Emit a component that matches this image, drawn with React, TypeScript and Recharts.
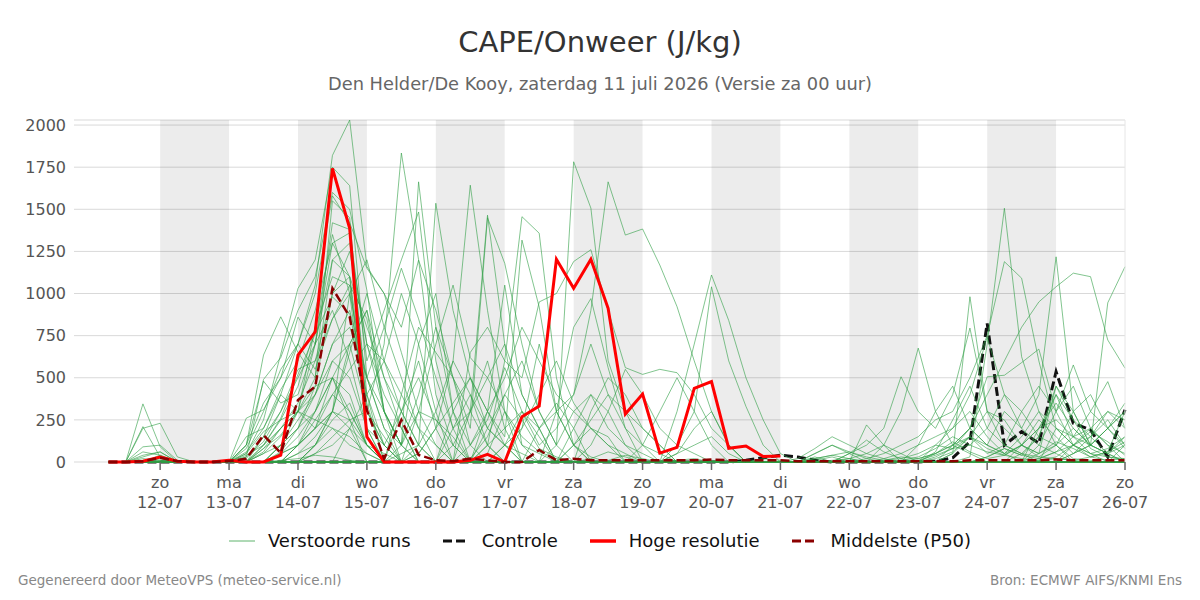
import React from "react"
import { LineChart, Line, XAxis, YAxis, CartesianGrid, ReferenceArea } from "recharts"

// forecast hours since 11-07 00 UTC
const uren = [
  6, 12, 18, 24, 30, 36, 42, 48, 54, 60,
  66, 72, 78, 84, 90, 96, 102, 108, 114, 120,
  126, 132, 138, 144, 150, 156, 162, 168, 174, 180,
  186, 192, 198, 204, 210, 216, 222, 228, 234, 240,
  246, 252, 258, 264, 270, 276, 282, 288, 294, 300,
  306, 312, 318, 324, 330, 336, 342, 348, 354, 360,
]

const dagTicks = [24, 48, 72, 96, 120, 144, 168, 192, 216, 240, 264, 288, 312, 336, 360]
const dagNamen = ["zo", "ma", "di", "wo", "do", "vr", "za", "zo", "ma", "di", "wo", "do", "vr", "za", "zo"]
const datums = ["12-07", "13-07", "14-07", "15-07", "16-07", "17-07", "18-07", "19-07", "20-07", "21-07", "22-07", "23-07", "24-07", "25-07", "26-07"]

// shaded days (every other day)
const grijzeDagen = [[24, 48], [72, 96], [120, 144], [168, 192], [216, 240], [264, 288], [312, 336]]

const yTicks = [0, 250, 500, 750, 1000, 1250, 1500, 1750, 2000]

// perturbed members, CAPE in J/kg
const m01 = [0, 0, 345, 90, 0, 0, 0, 0, 0, 150, 400, 700, 1050, 1820, 2030, 1160, 1000, 650, 300, 100, 0, 20, 150, 400, 250, 80, 30, 0, 0, 10, 40, 20, 0, 0, 0, 10, 0, 0, 0, 0, 0, 0, 10, 20, 0, 10, 30, 20, 50, 120, 60, 20, 40, 100, 30, 20, 10, 30, 60, 120]
const m02 = [0, 0, 210, 30, 0, 0, 0, 0, 50, 250, 640, 1030, 1200, 1750, 1640, 500, 200, 0, 50, 200, 600, 1643, 900, 300, 100, 50, 0, 0, 20, 60, 30, 0, 0, 0, 0, 0, 0, 0, 0, 0, 0, 0, 0, 0, 0, 0, 0, 10, 40, 80, 200, 506, 515, 590, 670, 300, 100, 30, 10, 20]
const m03 = [0, 0, 200, 230, 30, 0, 0, 0, 100, 635, 862, 650, 500, 1550, 1450, 300, 700, 1834, 1200, 400, 100, 0, 50, 300, 150, 60, 20, 0, 0, 0, 0, 0, 0, 0, 0, 0, 0, 0, 0, 0, 0, 0, 0, 0, 0, 0, 0, 0, 20, 60, 150, 80, 40, 20, 10, 30, 100, 180, 120, 40]
const m04 = [0, 0, 90, 100, 10, 0, 0, 0, 30, 490, 620, 900, 1100, 1600, 1500, 1020, 300, 100, 1663, 800, 300, 0, 100, 600, 1456, 1358, 500, 100, 30, 0, 0, 0, 0, 10, 20, 0, 0, 0, 0, 0, 0, 0, 0, 0, 0, 0, 0, 0, 0, 0, 30, 700, 1506, 625, 300, 100, 20, 10, 0, 0]
const m05 = [0, 0, 30, 60, 0, 0, 0, 0, 260, 310, 500, 860, 700, 1420, 1380, 600, 900, 1200, 1484, 600, 200, 300, 1465, 700, 100, 0, 0, 0, 0, 0, 0, 0, 0, 0, 0, 0, 0, 0, 0, 0, 0, 0, 0, 0, 0, 0, 0, 0, 0, 0, 0, 0, 0, 0, 20, 60, 150, 300, 200, 80]
const m06 = [0, 0, 0, 20, 0, 0, 0, 0, 150, 200, 430, 600, 900, 1300, 1360, 400, 0, 50, 100, 1536, 900, 500, 300, 150, 1317, 920, 300, 100, 0, 0, 0, 0, 0, 0, 0, 0, 0, 0, 0, 0, 0, 0, 0, 0, 0, 0, 0, 0, 0, 0, 0, 30, 80, 40, 150, 450, 250, 80, 30, 10]
const m07 = [0, 0, 60, 40, 0, 0, 0, 0, 100, 480, 350, 400, 700, 1200, 1300, 700, 300, 100, 400, 800, 500, 200, 1450, 1179, 700, 300, 100, 1782, 1507, 600, 300, 100, 50, 0, 0, 0, 0, 0, 0, 0, 0, 0, 0, 0, 0, 0, 0, 0, 0, 0, 0, 0, 0, 0, 0, 0, 0, 0, 0, 0]
const m08 = [0, 0, 0, 10, 0, 0, 0, 0, 40, 100, 250, 450, 800, 1100, 1050, 300, 100, 0, 0, 0, 100, 300, 500, 700, 400, 200, 300, 400, 900, 1663, 1347, 1383, 1169, 922, 600, 300, 100, 0, 0, 0, 0, 0, 0, 0, 0, 0, 0, 0, 0, 0, 0, 0, 0, 0, 0, 0, 0, 0, 0, 0]
const m09 = [0, 0, 0, 0, 0, 0, 0, 0, 80, 300, 550, 700, 1000, 1580, 1420, 1150, 1000, 800, 1198, 900, 500, 100, 300, 1050, 400, 200, 0, 100, 200, 150, 0, 0, 0, 0, 0, 0, 0, 0, 0, 0, 0, 0, 0, 0, 0, 0, 0, 0, 0, 50, 981, 300, 100, 50, 30, 100, 300, 400, 200, 100]
const m10 = [0, 0, 0, 0, 0, 0, 0, 0, 20, 150, 300, 550, 600, 1000, 1250, 700, 600, 1000, 700, 300, 0, 650, 800, 600, 500, 950, 1000, 1190, 1260, 900, 560, 520, 550, 530, 400, 200, 100, 0, 0, 0, 0, 0, 0, 0, 0, 0, 0, 0, 0, 0, 0, 0, 0, 0, 0, 0, 0, 0, 0, 0]
const m11 = [0, 0, 0, 0, 0, 0, 0, 0, 0, 60, 200, 350, 600, 850, 1000, 200, 0, 0, 100, 300, 600, 400, 200, 100, 50, 0, 0, 200, 400, 300, 100, 0, 0, 300, 700, 1110, 840, 500, 250, 50, 0, 0, 0, 0, 0, 0, 0, 0, 0, 0, 0, 0, 0, 0, 0, 0, 0, 0, 0, 0]
const m12 = [0, 0, 0, 0, 0, 0, 0, 0, 0, 0, 100, 300, 500, 1200, 1100, 150, 0, 0, 300, 700, 1050, 620, 500, 300, 0, 0, 300, 800, 970, 560, 200, 0, 0, 100, 300, 1040, 600, 330, 100, 0, 0, 0, 0, 0, 0, 0, 0, 0, 0, 0, 0, 0, 0, 0, 0, 0, 0, 0, 0, 0]
const m13 = [0, 0, 0, 0, 0, 0, 0, 0, 0, 100, 200, 300, 400, 600, 700, 300, 100, 0, 0, 0, 0, 0, 0, 100, 300, 200, 0, 0, 0, 0, 0, 0, 0, 0, 0, 0, 0, 0, 0, 0, 0, 50, 100, 50, 0, 100, 300, 676, 300, 100, 50, 0, 0, 0, 0, 0, 0, 0, 0, 0]
const m14 = [0, 0, 0, 0, 0, 0, 0, 0, 0, 0, 50, 100, 300, 600, 500, 200, 0, 0, 0, 0, 0, 0, 0, 0, 0, 0, 0, 0, 0, 0, 0, 0, 0, 0, 0, 0, 0, 0, 0, 0, 0, 0, 0, 50, 100, 200, 506, 300, 200, 400, 795, 300, 200, 100, 50, 450, 300, 100, 50, 0]
const m15 = [0, 0, 0, 0, 0, 0, 0, 0, 0, 0, 0, 100, 200, 400, 300, 100, 50, 0, 0, 0, 0, 0, 0, 0, 0, 0, 0, 0, 0, 0, 0, 0, 0, 0, 0, 0, 0, 0, 0, 0, 0, 0, 0, 0, 20, 50, 100, 150, 250, 300, 500, 750, 1189, 1091, 600, 200, 100, 50, 30, 20]
const m16 = [0, 0, 0, 0, 0, 0, 0, 0, 0, 0, 0, 50, 150, 300, 250, 0, 0, 0, 0, 0, 0, 0, 0, 0, 0, 0, 0, 0, 0, 0, 0, 0, 0, 0, 0, 0, 0, 0, 0, 0, 0, 0, 0, 0, 0, 0, 0, 20, 50, 100, 200, 400, 600, 800, 950, 1040, 1121, 1100, 724, 557]
const m17 = [0, 0, 0, 0, 0, 0, 0, 0, 0, 0, 0, 0, 100, 250, 350, 100, 0, 0, 0, 0, 0, 0, 0, 0, 0, 0, 0, 0, 0, 0, 0, 0, 0, 0, 0, 0, 0, 0, 0, 0, 0, 0, 0, 0, 0, 0, 0, 0, 0, 50, 150, 100, 300, 200, 400, 1218, 300, 100, 945, 1159]
const m18 = [0, 0, 0, 0, 0, 0, 0, 0, 0, 0, 0, 100, 200, 300, 200, 0, 0, 0, 0, 0, 0, 0, 0, 0, 0, 0, 0, 0, 0, 0, 0, 0, 0, 0, 0, 0, 0, 0, 0, 0, 0, 0, 0, 0, 0, 0, 0, 0, 30, 80, 150, 50, 100, 300, 450, 300, 576, 300, 477, 200]
const m19 = [0, 0, 0, 0, 0, 0, 0, 0, 0, 0, 0, 0, 50, 150, 250, 300, 150, 0, 0, 0, 0, 0, 0, 0, 0, 0, 0, 0, 0, 0, 0, 0, 0, 0, 0, 0, 0, 0, 0, 0, 0, 0, 0, 0, 0, 0, 0, 0, 100, 200, 400, 740, 400, 200, 100, 50, 0, 0, 0, 0]
const m20 = [0, 0, 20, 10, 0, 0, 0, 0, 0, 100, 260, 520, 760, 980, 880, 400, 100, 0, 50, 200, 350, 500, 200, 100, 0, 0, 100, 300, 400, 200, 100, 50, 0, 0, 0, 0, 0, 0, 20, 10, 0, 20, 40, 20, 0, 0, 10, 30, 80, 150, 100, 60, 40, 100, 200, 250, 150, 100, 200, 300]
const m21 = [0, 0, 0, 40, 0, 0, 0, 0, 0, 0, 100, 200, 400, 700, 900, 500, 200, 100, 700, 1000, 300, 100, 0, 0, 200, 700, 300, 100, 0, 0, 0, 0, 0, 0, 0, 0, 0, 0, 0, 0, 0, 0, 0, 0, 0, 0, 0, 0, 0, 0, 0, 0, 0, 0, 100, 300, 450, 200, 100, 50]
const m22 = [0, 0, 0, 0, 0, 0, 0, 0, 60, 200, 400, 300, 200, 500, 700, 900, 300, 0, 0, 0, 0, 300, 600, 200, 0, 0, 0, 0, 0, 0, 0, 0, 0, 0, 0, 0, 0, 0, 0, 0, 0, 10, 30, 0, 0, 0, 0, 0, 0, 0, 0, 0, 0, 0, 0, 0, 0, 0, 0, 0]
const m23 = [0, 0, 0, 0, 0, 0, 0, 0, 0, 0, 0, 0, 100, 300, 650, 1000, 600, 400, 200, 0, 0, 100, 250, 560, 300, 100, 200, 400, 700, 400, 200, 100, 0, 0, 0, 0, 0, 0, 0, 0, 0, 0, 0, 0, 0, 0, 0, 0, 0, 0, 0, 0, 0, 0, 0, 0, 50, 100, 200, 350]
const m24 = [0, 0, 0, 0, 0, 0, 0, 0, 100, 350, 500, 700, 550, 850, 1050, 850, 300, 100, 0, 0, 200, 400, 100, 0, 0, 0, 0, 0, 0, 0, 0, 0, 0, 0, 0, 0, 0, 0, 0, 0, 0, 0, 0, 0, 0, 0, 0, 0, 0, 0, 0, 0, 0, 0, 0, 0, 0, 0, 0, 0]
const m25 = [0, 0, 0, 0, 0, 0, 0, 0, 0, 50, 150, 300, 450, 500, 250, 100, 0, 400, 800, 650, 500, 300, 100, 0, 0, 0, 0, 0, 0, 0, 0, 0, 0, 0, 0, 0, 0, 0, 0, 0, 0, 0, 0, 0, 0, 0, 0, 0, 0, 0, 0, 0, 0, 0, 0, 0, 0, 0, 0, 0]
const m26 = [0, 0, 0, 0, 0, 0, 0, 0, 0, 0, 0, 0, 0, 0, 0, 0, 0, 300, 600, 200, 0, 0, 300, 500, 800, 600, 400, 300, 200, 100, 50, 0, 0, 0, 0, 0, 0, 0, 0, 0, 0, 0, 0, 0, 0, 0, 0, 0, 0, 0, 0, 0, 0, 0, 0, 0, 0, 0, 0, 0]
const m27 = [0, 0, 0, 0, 0, 0, 0, 0, 0, 0, 0, 0, 0, 0, 0, 0, 0, 0, 0, 0, 0, 0, 0, 100, 200, 400, 600, 350, 200, 100, 0, 0, 0, 50, 200, 300, 100, 0, 0, 0, 0, 0, 0, 0, 0, 0, 0, 0, 0, 0, 0, 0, 0, 100, 250, 150, 50, 100, 200, 300]
const m28 = [0, 0, 0, 0, 0, 0, 0, 0, 0, 0, 60, 200, 450, 1000, 1100, 350, 0, 0, 0, 0, 0, 0, 0, 0, 0, 0, 0, 0, 0, 0, 0, 0, 0, 0, 0, 0, 0, 0, 0, 0, 0, 0, 0, 0, 0, 0, 0, 0, 0, 0, 0, 0, 0, 0, 0, 0, 0, 0, 0, 0]
const m29 = [0, 0, 0, 0, 0, 0, 0, 0, 0, 0, 0, 0, 50, 100, 200, 100, 0, 0, 0, 0, 0, 0, 0, 0, 0, 0, 0, 0, 0, 0, 0, 0, 0, 0, 0, 0, 0, 0, 0, 0, 0, 0, 0, 0, 0, 0, 0, 0, 0, 0, 0, 0, 0, 0, 0, 0, 0, 0, 0, 0]
const m30 = [0, 0, 0, 0, 0, 0, 0, 0, 0, 0, 0, 0, 0, 0, 0, 0, 0, 100, 300, 250, 150, 0, 0, 0, 0, 0, 0, 0, 300, 500, 400, 200, 100, 0, 0, 0, 0, 0, 0, 0, 0, 0, 0, 0, 0, 0, 0, 0, 0, 0, 0, 0, 0, 0, 200, 400, 250, 150, 50, 0]
const m31 = [0, 0, 40, 60, 0, 0, 0, 0, 0, 80, 200, 300, 800, 1350, 1000, 500, 800, 1150, 850, 500, 200, 0, 0, 0, 0, 0, 0, 0, 0, 0, 0, 0, 0, 0, 0, 0, 0, 0, 0, 0, 0, 0, 0, 0, 0, 0, 0, 0, 0, 0, 0, 0, 0, 0, 0, 0, 0, 0, 0, 0]
const m32 = [0, 0, 0, 0, 0, 0, 0, 0, 0, 0, 0, 0, 0, 0, 0, 0, 0, 0, 0, 0, 0, 0, 0, 0, 0, 0, 0, 0, 0, 0, 0, 0, 0, 0, 0, 0, 0, 0, 0, 0, 0, 0, 0, 20, 50, 100, 50, 0, 0, 100, 200, 100, 50, 150, 300, 200, 100, 150, 250, 100]
const m33 = [0, 0, 0, 0, 0, 0, 0, 0, 0, 0, 0, 50, 100, 200, 100, 50, 0, 0, 0, 0, 0, 0, 0, 0, 0, 0, 0, 0, 0, 0, 0, 0, 0, 0, 0, 0, 0, 0, 0, 0, 0, 20, 40, 60, 30, 10, 20, 50, 100, 80, 100, 200, 400, 300, 150, 100, 200, 100, 50, 150]
const m34 = [0, 0, 0, 0, 0, 0, 0, 0, 0, 0, 0, 0, 0, 0, 0, 0, 0, 0, 0, 0, 0, 0, 0, 0, 0, 0, 0, 0, 0, 0, 0, 0, 0, 50, 100, 150, 50, 0, 0, 0, 0, 0, 0, 0, 0, 0, 0, 0, 0, 0, 0, 0, 0, 50, 150, 400, 150, 200, 300, 200]
const m35 = [0, 0, 0, 0, 0, 0, 0, 0, 0, 0, 100, 200, 300, 500, 400, 100, 0, 0, 0, 0, 0, 0, 0, 0, 0, 0, 0, 0, 0, 0, 0, 0, 0, 0, 0, 0, 0, 0, 0, 0, 0, 0, 0, 0, 0, 0, 0, 100, 300, 450, 200, 100, 50, 0, 0, 0, 0, 0, 0, 0]
const m36 = [0, 0, 0, 0, 0, 0, 0, 0, 0, 0, 50, 100, 200, 300, 1000, 1200, 800, 500, 200, 100, 0, 0, 0, 0, 0, 0, 0, 0, 0, 0, 0, 0, 0, 0, 0, 0, 0, 0, 0, 0, 0, 0, 0, 0, 0, 0, 0, 0, 0, 0, 0, 0, 0, 0, 0, 0, 0, 0, 0, 0]
const m37 = [0, 0, 0, 0, 0, 0, 0, 0, 30, 120, 300, 500, 700, 900, 600, 200, 100, 300, 500, 250, 100, 0, 200, 400, 600, 300, 100, 0, 0, 0, 0, 0, 0, 0, 0, 0, 0, 0, 0, 0, 0, 50, 100, 60, 20, 0, 0, 0, 0, 0, 0, 0, 0, 0, 0, 0, 0, 0, 0, 0]
const m38 = [0, 0, 0, 0, 0, 0, 0, 0, 0, 0, 0, 100, 250, 400, 550, 700, 400, 200, 0, 0, 0, 0, 0, 0, 0, 0, 0, 0, 100, 300, 550, 400, 200, 100, 50, 0, 0, 0, 0, 0, 0, 0, 0, 0, 0, 20, 50, 100, 150, 200, 300, 150, 50, 100, 200, 350, 200, 100, 50, 100]
const m39 = [0, 0, 0, 0, 0, 0, 0, 0, 0, 50, 100, 250, 400, 700, 800, 500, 300, 100, 0, 0, 300, 500, 300, 100, 0, 0, 0, 0, 0, 0, 0, 0, 0, 0, 0, 0, 0, 0, 0, 0, 20, 80, 150, 100, 50, 20, 0, 0, 0, 0, 0, 0, 0, 0, 0, 0, 0, 0, 0, 0]
const m40 = [0, 0, 0, 0, 0, 0, 0, 0, 0, 0, 0, 0, 0, 0, 200, 400, 600, 300, 100, 0, 0, 0, 0, 0, 0, 200, 350, 200, 0, 0, 0, 100, 300, 500, 300, 100, 0, 0, 0, 0, 0, 0, 0, 0, 0, 0, 0, 0, 0, 0, 0, 0, 0, 0, 0, 0, 50, 150, 300, 250]
const m41 = [0, 0, 0, 0, 0, 0, 0, 0, 0, 0, 50, 150, 300, 500, 300, 100, 0, 0, 0, 0, 0, 0, 0, 0, 0, 0, 0, 0, 0, 0, 0, 0, 0, 0, 0, 0, 0, 0, 0, 0, 0, 0, 0, 0, 0, 0, 0, 0, 50, 100, 150, 300, 250, 100, 50, 120, 80, 30, 60, 300]
const m42 = [0, 0, 0, 5, 0, 0, 0, 0, 0, 0, 10, 20, 40, 30, 10, 0, 0, 0, 0, 0, 0, 0, 0, 0, 0, 0, 0, 0, 0, 0, 0, 0, 0, 0, 0, 0, 0, 0, 0, 0, 0, 0, 0, 0, 0, 0, 0, 0, 0, 0, 0, 0, 0, 0, 10, 20, 10, 0, 0, 0]
const m43 = [0, 0, 0, 0, 0, 0, 0, 0, 0, 0, 0, 0, 100, 300, 700, 900, 500, 200, 0, 0, 0, 0, 100, 200, 300, 150, 0, 0, 0, 0, 0, 0, 0, 0, 0, 0, 0, 0, 0, 0, 0, 0, 0, 50, 130, 60, 20, 0, 0, 0, 0, 0, 0, 0, 0, 200, 150, 50, 0, 100]
const m44 = [0, 0, 0, 0, 0, 0, 0, 0, 0, 0, 0, 0, 0, 0, 0, 0, 0, 0, 0, 0, 0, 0, 0, 0, 0, 0, 0, 0, 0, 0, 0, 0, 0, 0, 0, 0, 0, 0, 0, 0, 0, 0, 0, 0, 220, 100, 0, 0, 0, 0, 0, 0, 0, 0, 0, 0, 0, 0, 0, 0]
const m45 = [0, 0, 0, 0, 0, 0, 0, 0, 50, 180, 250, 300, 700, 1300, 1100, 800, 500, 300, 100, 0, 0, 0, 0, 0, 0, 0, 0, 0, 0, 0, 0, 0, 0, 0, 0, 0, 0, 0, 0, 0, 0, 0, 0, 0, 0, 0, 0, 0, 0, 0, 0, 0, 0, 0, 0, 0, 0, 0, 0, 0]
const m46 = [0, 0, 0, 0, 0, 0, 0, 0, 0, 0, 0, 0, 0, 0, 0, 0, 0, 0, 0, 0, 0, 0, 0, 0, 0, 0, 0, 100, 250, 400, 300, 200, 100, 0, 0, 0, 0, 0, 0, 0, 0, 0, 0, 0, 0, 0, 0, 0, 0, 0, 0, 0, 0, 0, 0, 0, 0, 0, 0, 0]
const m47 = [0, 0, 0, 0, 0, 0, 0, 0, 0, 0, 0, 0, 0, 0, 0, 0, 0, 0, 0, 0, 0, 0, 0, 0, 0, 0, 0, 0, 0, 0, 0, 0, 0, 0, 0, 0, 0, 0, 0, 0, 0, 0, 0, 0, 0, 0, 0, 0, 60, 250, 450, 200, 100, 50, 0, 0, 100, 200, 100, 0]
const m48 = [0, 0, 0, 0, 0, 0, 0, 0, 0, 0, 0, 0, 0, 0, 0, 0, 0, 0, 0, 0, 0, 0, 0, 0, 0, 0, 0, 0, 0, 0, 0, 0, 0, 0, 0, 0, 0, 0, 0, 0, 0, 30, 0, 0, 0, 0, 0, 0, 0, 0, 0, 0, 0, 0, 50, 100, 0, 0, 0, 0]
const m49 = [0, 0, 0, 0, 0, 0, 0, 0, 0, 80, 160, 300, 250, 200, 150, 50, 0, 0, 0, 0, 0, 0, 0, 0, 0, 0, 0, 0, 0, 0, 0, 0, 0, 0, 0, 0, 0, 0, 0, 0, 0, 0, 0, 0, 0, 0, 0, 0, 0, 0, 0, 0, 0, 0, 0, 0, 0, 0, 0, 0]
const m50 = [0, 0, 0, 0, 0, 0, 0, 0, 0, 0, 0, 0, 0, 0, 0, 0, 0, 0, 0, 0, 0, 0, 0, 0, 0, 0, 0, 0, 0, 0, 0, 0, 0, 0, 0, 0, 0, 0, 0, 0, 0, 0, 0, 0, 0, 0, 0, 0, 0, 0, 0, 30, 80, 40, 20, 60, 100, 50, 80, 150]

const leden = [
  m01, m02, m03, m04, m05, m06, m07, m08, m09, m10, m11, m12, m13, m14, m15, m16, m17, m18, m19, m20, m21, m22, m23, m24, m25,
  m26, m27, m28, m29, m30, m31, m32, m33, m34, m35, m36, m37, m38, m39, m40, m41, m42, m43, m44, m45, m46, m47, m48, m49, m50,
]

const controle = [
  0, 0, 0, 0, 0, 0, 0, 0, 0, 0,
  0, 0, 0, 0, 0, 0, 0, 0, 0, 0,
  0, 0, 0, 0, 0, 0, 0, 0, 0, 0,
  0, 0, 0, 0, 0, 0, 0, 10, 25, 40,
  30, 10, 0, 0, 0, 0, 0, 0, 5, 25,
  120, 823, 100, 180, 111, 536, 230, 190, 30, 310,
]

// high resolution run only reaches +240h
const hogeResolutie = [0, 0, 5, 30, 5, 0, 0, 10, 0, 0, 40, 635, 773, 1743, 1387, 150, 0, 0, 0, 0, 0, 10, 45, 0, 269, 332, 1203, 1031, 1203, 912, 285, 403, 53, 87, 437, 477, 81, 95, 32, 35]

const middelste = [0, 0, 5, 25, 5, 0, 0, 5, 20, 160, 53, 368, 447, 1031, 862, 309, 20, 249, 42, 10, 5, 20, 10, 0, 0, 71, 10, 20, 10, 10, 10, 10, 10, 10, 10, 15, 10, 10, 10, 10, 5, 5, 5, 5, 5, 5, 5, 5, 5, 5, 10, 10, 10, 10, 10, 15, 10, 10, 10, 10]

const chartData = uren.map((h, i) => {
  const row: Record<string, number | undefined> = { h }
  leden.forEach((m, j) => {
    row["m" + j] = m[i]
  })
  row.ctrl = controle[i]
  row.hres = i < hogeResolutie.length ? hogeResolutie[i] : undefined
  row.p50 = middelste[i]
  return row
})

const tekst = "#555"
const font = '"DejaVu Sans", Verdana, sans-serif'

function DagTick({ x, y, payload }: any) {
  const i = dagTicks.indexOf(payload.value)
  return (
    <text x={x} y={y} textAnchor="middle" fill={tekst} fontSize={16} fontFamily={font}>
      <tspan x={x} dy={18}>{dagNamen[i]}</tspan>
      <tspan x={x} dy={20}>{datums[i]}</tspan>
    </text>
  )
}

const legendItems = [
  { label: "Verstoorde runs", color: "#5fb36d", width: 1, dash: undefined },
  { label: "Controle", color: "#111", width: 3, dash: "9 4" },
  { label: "Hoge resolutie", color: "#f00", width: 3.5, dash: undefined },
  { label: "Middelste (P50)", color: "#8b0000", width: 3, dash: "9 4" },
]

export default function App() {
  return (
    <div style={{ position: "absolute", left: 0, top: 0, width: 1200, height: 600, background: "#fff", fontFamily: font }}>
      <LineChart width={1200} height={600} data={chartData} margin={{ top: 120, right: 0, bottom: 88, left: 0 }}>
        <CartesianGrid vertical={false} stroke="#d9d9d9" yAxisId="left" />
        {grijzeDagen.map(([a, b]) => (
          <ReferenceArea key={a} x1={a} x2={b} yAxisId="left" fill="#000" fillOpacity={0.075} stroke="none" />
        ))}
        <XAxis
          dataKey="h"
          type="number"
          domain={[-6, 360]}
          ticks={dagTicks}
          height={50}
          axisLine={false}
          tickSize={8}
          tickMargin={0}
          tickLine={{ stroke: "#666", strokeWidth: 1.5 }}
          tick={<DagTick />}
          interval={0}
        />
        <YAxis
          yAxisId="left"
          width={74}
          domain={[0, 2030]}
          ticks={yTicks}
          axisLine={false}
          tickLine={false}
          tickSize={8}
          tickMargin={0}
          tick={{ fill: tekst, fontSize: 16, fontFamily: font }}
        />
        <YAxis
          yAxisId="right"
          orientation="right"
          width={75}
          domain={[0, 2030]}
          ticks={yTicks}
          axisLine={{ stroke: "#e6e6e6" }}
          tickLine={false}
          tickSize={8}
          tickMargin={0}
          tick={{ fill: tekst, fontSize: 16, fontFamily: font, textAnchor: "start" }}
        />
        {/* control run sits beneath the members, so its zero stretches vanish in the green baseline */}
        <Line yAxisId="left" dataKey="ctrl" type="linear" stroke="#111" strokeWidth={3} strokeDasharray="9 4" dot={false} activeDot={false} isAnimationActive={false} />
        {leden.map((_, j) => (
          <Line
            key={j}
            yAxisId="left"
            dataKey={"m" + j}
            type="linear"
            stroke="#2f9e44"
            strokeOpacity={0.6}
            strokeWidth={1}
            dot={false}
            activeDot={false}
            isAnimationActive={false}
          />
        ))}
        <Line yAxisId="left" dataKey="hres" type="linear" stroke="#f00" strokeWidth={3} dot={false} activeDot={false} isAnimationActive={false} />
        <Line yAxisId="left" dataKey="p50" type="linear" stroke="#8b0000" strokeWidth={2.5} strokeDasharray="9 4" dot={false} activeDot={false} isAnimationActive={false} />
      </LineChart>

      <div style={{ position: "absolute", top: 24, width: 1200, textAlign: "center", fontSize: 29, lineHeight: "36px", color: "#333" }}>
        CAPE/Onweer (J/kg)
      </div>
      <div style={{ position: "absolute", top: 72, width: 1200, textAlign: "center", fontSize: 17.8, lineHeight: "24px", color: "#666" }}>
        Den Helder/De Kooy, zaterdag 11 juli 2026 (Versie za 00 uur)
      </div>

      <div style={{ position: "absolute", top: 529, width: 1200, display: "flex", justifyContent: "center", gap: 32, fontSize: 18, lineHeight: "24px", color: "#111" }}>
        {legendItems.map((it) => (
          <div key={it.label} style={{ display: "flex", alignItems: "center", gap: 13 }}>
            <svg width={26} height={10}>
              <line x1={0} y1={5} x2={26} y2={5} stroke={it.color} strokeWidth={it.width} strokeDasharray={it.dash} />
            </svg>
            <span>{it.label}</span>
          </div>
        ))}
      </div>

      <div style={{ position: "absolute", left: 18, top: 572, fontSize: 13.5, lineHeight: "16px", color: "#888" }}>
        Gegenereerd door MeteoVPS (meteo-service.nl)
      </div>
      <div style={{ position: "absolute", right: 18, top: 572, fontSize: 13.5, lineHeight: "16px", color: "#888" }}>
        Bron: ECMWF AIFS/KNMI Ens
      </div>
    </div>
  )
}
